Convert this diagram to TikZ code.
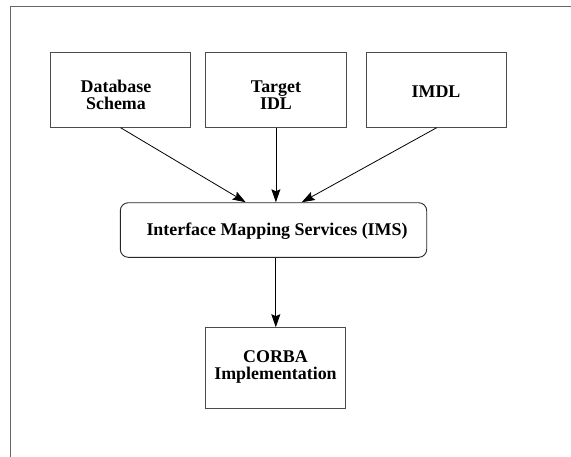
\documentclass[tikz,border=0pt]{standalone}
\usepackage{fontspec}
\setmainfont{Liberation Serif}
\usetikzlibrary{arrows.meta}
\begin{document}
\begin{tikzpicture}[x=1pt,y=-1pt,
  line/.style={line width=0.9pt,draw=black!70},
  box/.style={line, rectangle, inner sep=0pt},
  txt/.style={inner sep=0pt, align=center,
    font=\fontsize{17.9}{16.5}\selectfont\bfseries},
  arr/.style={line width=0.8pt, draw=black, -{Stealth[length=13pt,width=9pt,inset=2pt]}}]
\useasboundingbox (0,0) rectangle (571,456);
\clip (0,0) rectangle (571,456);
\draw[line, draw=black!60] (10.5,470) -- (10.5,6.5) -- (590,6.5);
% top boxes
\node[box, minimum width=140.2pt, minimum height=75.3pt] (db) at (120.6,89.6) {};
\node[box, minimum width=140.3pt, minimum height=75.3pt] (tidl) at (275.9,89.6) {};
\node[box, minimum width=140pt, minimum height=75.3pt] (imdl) at (436.7,89.6) {};
\node[box, draw=black!85, rounded corners=8pt, minimum width=306.4pt, minimum height=54.6pt] (ims) at (273.5,230) {};
\node[box, minimum width=140pt, minimum height=80.7pt] (corba) at (275.8,368) {};
\node[txt] (dbt) at (116,95) {Database\\Schema};
\node[txt] (tidlt) at (276,95) {Target\\IDL};
\node[txt] (imdlt) at (436,91.5) {IMDL};
\node[txt] (imst) at (277,231.5) {Interface Mapping Services (IMS)};
\node[txt, font=\fontsize{17.9}{17.6}\selectfont\bfseries] (corbat) at (275.5,367) {CORBA\\Implementation};
\draw[arr] (db.south) -- (ims.north -| 245.7,0);
\draw[arr] (tidl.south) -- (tidl.south |- ims.north);
\draw[arr] (imdl.south) -- (ims.north -| 301.7,0);
\draw[arr] (corba.north |- ims.south) -- (corba.north);
\end{tikzpicture}
\end{document}
